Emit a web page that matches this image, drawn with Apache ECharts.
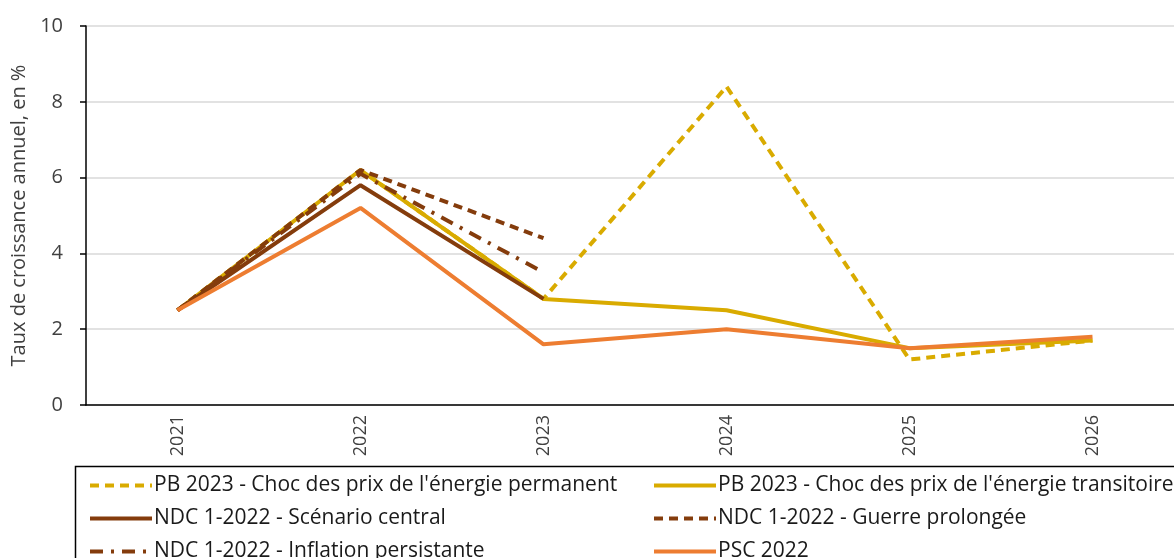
<!DOCTYPE html>
<html>
<head>
<meta charset="utf-8">
<script src="https://cdn.jsdelivr.net/npm/echarts@6/dist/echarts.min.js"></script>
<style>
html,body{margin:0;padding:0;background:#fff;}
#chart{width:1174px;height:558px;}
</style>
</head>
<body>
<div id="chart"></div>
<script>
const years = ['2021','2022','2023','2024','2025','2026'];
const pbPermanent   = [2.5, 6.2, 2.8, 8.4, 1.2, 1.7];
const pbTransitoire = [2.5, 6.2, 2.8, 2.5, 1.5, 1.7];
const ndcCentral    = [2.5, 5.8, 2.8, null, null, null];
const ndcGuerre     = [2.5, 6.2, 4.4, null, null, null];
const ndcInflation  = [2.5, 6.1, 3.5, null, null, null];
const psc2022       = [2.5, 5.2, 1.6, 2.0, 1.5, 1.8];
const yTicks = [0, 2, 4, 6, 8, 10];

const names = [
  "PB 2023 - Choc des prix de l'énergie permanent",
  "PB 2023 - Choc des prix de l'énergie transitoire",
  "NDC 1-2022 - Scénario central",
  "NDC 1-2022 - Guerre prolongée",
  "NDC 1-2022 - Inflation persistante",
  "PSC 2022"
];
const YEL = '#D9AB00', BRN = '#843C0C', ORG = '#ED7D31';
const FONT = 'Open Sans';

function mk(name, data, color, type) {
  return {
    name: name, type: 'line', data: data, symbol: 'none', showSymbol: false,
    connectNulls: false, animation: false,
    lineStyle: { color: color, width: 4, type: type, cap: 'butt' },
    itemStyle: { color: color }
  };
}

const chart = echarts.init(document.getElementById('chart'));
const legendCommon = {
  orient: 'vertical', itemWidth: 62, itemHeight: 20, itemGap: 12, padding: 0,
  height: 300, width: 560,
  itemStyle: { opacity: 0 },
  lineStyle: { width: 4 },
  textStyle: { fontFamily: FONT, fontSize: 21, color: '#1a1a1a', padding: [0,0,0,-3] },
  selectedMode: false
};
chart.setOption({
  animation: false,
  textStyle: { fontFamily: FONT },
  grid: { left: 86, width: 1098, top: 26, bottom: 153, containLabel: false, outerBoundsMode: 'none' },
  xAxis: {
    type: 'category', data: years, boundaryGap: true,
    axisLine: { lineStyle: { color: '#000', width: 1.5 } },
    axisTick: { alignWithLabel: true, length: 5, lineStyle: { color: '#000', width: 1.5 } },
    axisLabel: { rotate: 90, fontSize: 18, color: '#404040', margin: 10, fontFamily: FONT }
  },
  yAxis: {
    type: 'value', min: 0, max: 10, interval: 2,
    name: 'Taux de croissance annuel, en %', nameLocation: 'middle', nameGap: 53,
    nameTextStyle: { fontSize: 20, color: '#404040', fontFamily: FONT },
    axisLine: { show: true, lineStyle: { color: '#000', width: 1.5 } },
    axisTick: { show: true, length: 6, lineStyle: { color: '#000', width: 1.5 } },
    axisLabel: { fontSize: 20, color: '#404040', margin: 23, fontFamily: FONT,
      formatter: v => yTicks.includes(v) ? String(v) : '' },
    splitLine: { lineStyle: { color: '#D9D9D9', width: 1.5 } }
  },
  legend: [
    Object.assign({ left: 88, top: 475, data: [names[0], names[2], names[4]] }, legendCommon),
    Object.assign({ left: 652, top: 475, data: [names[1], names[3], names[5]] }, legendCommon)
  ],
  graphic: [{
    type: 'rect', left: 73, top: 464, silent: true,
    shape: { width: 1120, height: 110 },
    style: { fill: 'none', stroke: '#000', lineWidth: 1.5 }
  }],
  series: [
    mk(names[0], pbPermanent, YEL, [9, 6]),
    mk(names[1], pbTransitoire, YEL, 'solid'),
    mk(names[2], ndcCentral, BRN, 'solid'),
    mk(names[3], ndcGuerre, BRN, [9, 6]),
    mk(names[4], ndcInflation, BRN, [13, 8, 3, 8]),
    mk(names[5], psc2022, ORG, 'solid')
  ]
});
</script>
</body>
</html>
